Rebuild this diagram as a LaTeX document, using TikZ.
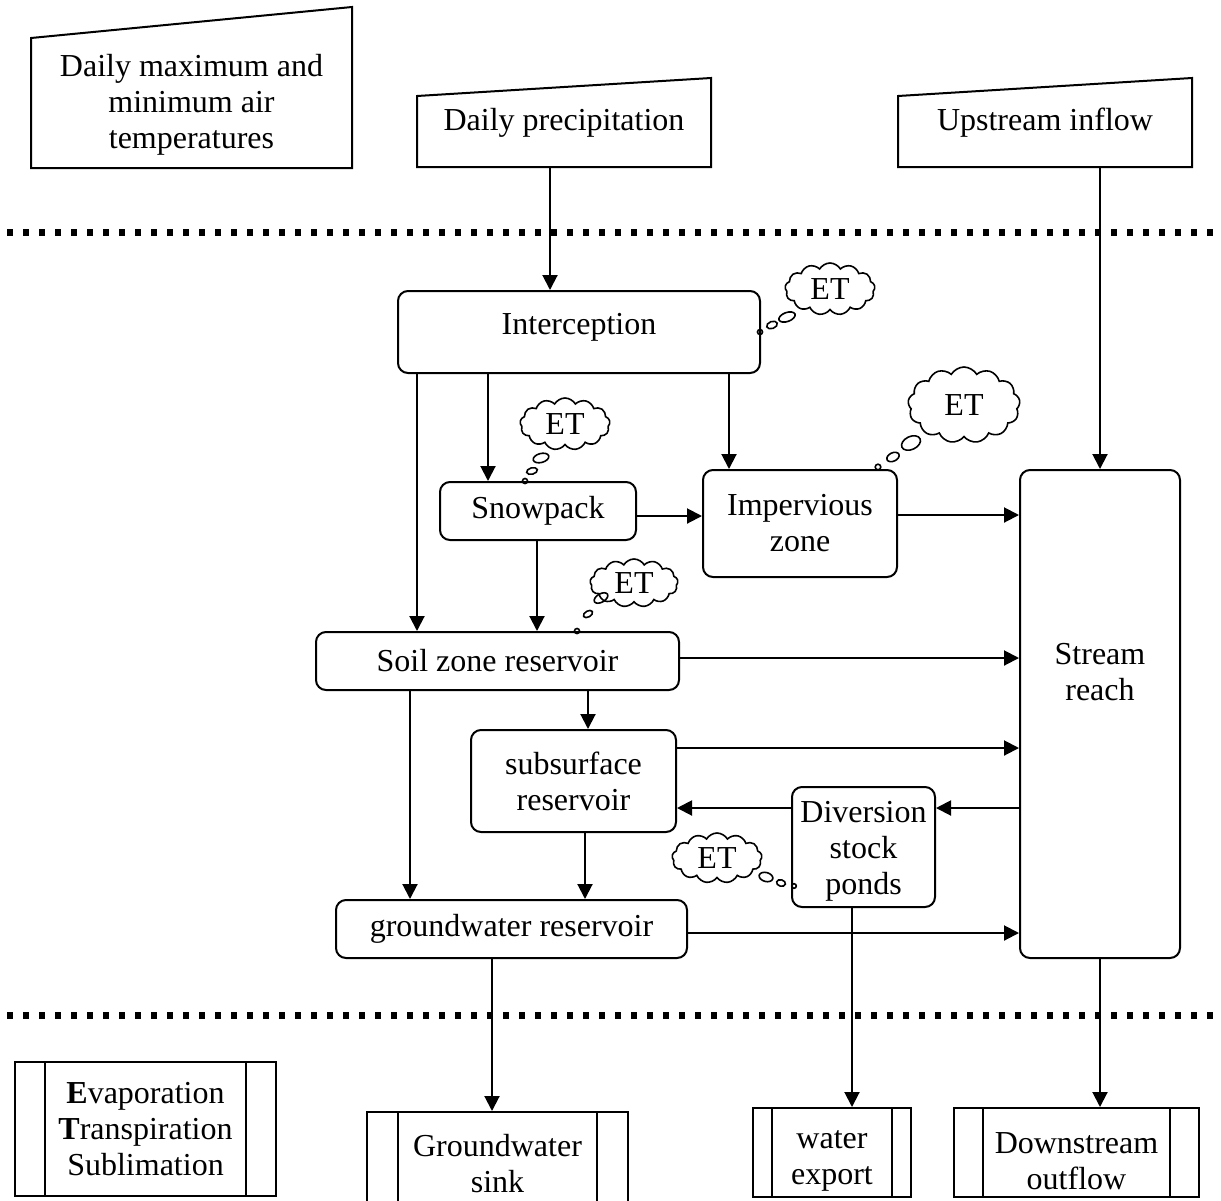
\documentclass[tikz,border=0pt]{standalone}
\usepackage{fontspec}
\setmainfont{Liberation Serif}
\usetikzlibrary{arrows.meta,shapes.symbols,calc}
\begin{document}
\begin{tikzpicture}[x=1pt,y=-1pt,
  every node/.style={font=\fontsize{32}{36}\selectfont},
  box/.style={draw, line width=2pt, rounded corners=10pt, align=center, inner sep=0pt},
  inbox/.style={align=center, inner sep=0pt, outer sep=0pt},
  procbox/.style={draw, line width=2pt, align=center, inner sep=0pt},
  outl/.style={line width=2pt, line join=miter},
  arr/.style={line width=2pt, -{Triangle[length=15pt,width=15pt]}},
  sep/.style={line width=7pt, dash pattern=on 6pt off 10pt},
  et/.style={cloud, draw, line width=1.6pt, cloud puffs=13, cloud puff arc=120, inner sep=0pt,
    cloud ignores aspect},
  bub/.style={line width=1.6pt}
]
\useasboundingbox (0,0) rectangle (1221,1200);

% separators
\coordinate (s1a) at (7,232);  \coordinate (s1b) at (1221,232);
\coordinate (s2a) at (7,1015); \coordinate (s2b) at (1221,1015);
\draw[sep] (s1a) -- (s1b);
\draw[sep] (s2a) -- (s2b);

% inputs (manual input shapes)
\node[inbox, minimum width=321, minimum height=130] (temp) at (191.5,105)
  {Daily maximum and\\minimum air\\temperatures};
\draw[outl] ([yshift=2pt]temp.south west) -- ([yshift=2pt]temp.south east) -- ([yshift=33pt]temp.north east) -- ([yshift=2pt]temp.north west) -- cycle;
\node[inbox, minimum width=294, minimum height=89] (prec) at (564,122.5) {Daily precipitation};
\draw[outl] (prec.south west) -- (prec.south east) -- (prec.north east) -- ([yshift=-18pt]prec.north west) -- cycle;
\node[inbox, minimum width=294, minimum height=89] (up) at (1045,122.5) {Upstream inflow};
\draw[outl] (up.south west) -- (up.south east) -- (up.north east) -- ([yshift=-18pt]up.north west) -- cycle;

% processes
\node[box, minimum width=362, minimum height=82] (inter) at (579,332) {};
\node[inbox] (intertxt) at (579,327) {Interception};
\node[box, minimum width=196, minimum height=58] (snow) at (538,511) {Snowpack};
\node[box, minimum width=194, minimum height=107] (imp) at (800,523.5) {Impervious\\zone};
\node[box, minimum width=363, minimum height=58] (soil) at (497.5,661) {Soil zone reservoir};
\node[box, minimum width=205, minimum height=102] (sub) at (573.5,781) {subsurface\\reservoir};
\node[box, minimum width=143, minimum height=120] (div) at (863.5,847) {};
\node[inbox] (divtxt) at (863.5,851) {Diversion\\stock\\ponds};
\node[box, minimum width=351, minimum height=58] (gw) at (511.5,929) {groundwater reservoir};
\node[box, minimum width=160, minimum height=488] (stream) at (1100,714) {};
\node[inbox] (streamtxt) at (1100,672) {Stream\\reach};

% outputs (predefined process)
\node[procbox, minimum width=261, minimum height=134] (ets) at (145.5,1129)
  {\textbf{E}vaporation\\\textbf{T}ranspiration\\Sublimation};
\node[procbox, minimum width=261, minimum height=103] (sink) at (497.5,1163.5) {Groundwater\\sink};
\node[procbox, minimum width=158, minimum height=89] (export) at (832,1152.5) {};
\node[inbox] (exporttxt) at (832,1161) {water\\export};
\node[procbox, minimum width=245, minimum height=89] (down) at (1076.5,1152.5) {};
\node[inbox] (downtxt) at (1076.5,1161) {Downstream\\outflow};
\foreach \n/\d in {ets/31, sink/32, export/20, down/30}{
  \draw[line width=2pt] ([xshift=\d pt]\n.north west) -- ([xshift=\d pt]\n.south west);
  \draw[line width=2pt] ([xshift=-\d pt]\n.north east) -- ([xshift=-\d pt]\n.south east);
}

% ET clouds (thought bubbles)
\node[et, minimum width=90, minimum height=52] (et1) at (830,289) {ET};
\node[et, minimum width=90, minimum height=52] (et2) at (565,424) {ET};
\node[et, minimum width=112, minimum height=76] (et3) at (964,405) {ET};
\node[et, minimum width=88, minimum height=48] (et4) at (634,583) {ET};
\node[et, minimum width=90, minimum height=50] (et5) at (717,858) {ET};
% bubble trails
\draw[bub] (787,317) ellipse [x radius=8.5pt, y radius=4.5pt, rotate=20];
\draw[bub] (772,325) ellipse [x radius=5.5pt, y radius=3.5pt, rotate=20];
\draw[bub] (760,332) circle [radius=2.5pt];
\draw[bub] (541,458) ellipse [x radius=8pt, y radius=4.5pt, rotate=15];
\draw[bub] (532,471) ellipse [x radius=5.5pt, y radius=3.2pt, rotate=15];
\draw[bub] (525,481) circle [radius=2.5pt];
\draw[bub] (911,443) ellipse [x radius=10pt, y radius=6.5pt, rotate=25];
\draw[bub] (893,457) ellipse [x radius=6.5pt, y radius=4.2pt, rotate=25];
\draw[bub] (878,467) circle [radius=2.8pt];
\draw[bub] (601,598) ellipse [x radius=7.5pt, y radius=4.2pt, rotate=30];
\draw[bub] (588,614) ellipse [x radius=5pt, y radius=3pt, rotate=30];
\draw[bub] (577,631) circle [radius=2.5pt];
\draw[bub] (766,877) ellipse [x radius=7pt, y radius=4.5pt, rotate=-15];
\draw[bub] (781,883) ellipse [x radius=4.5pt, y radius=3.2pt, rotate=-15];
\draw[bub] (794,886) circle [radius=2.3pt];

% connectors
\draw[arr] (550,0 |- prec.south) -- (550,0 |- inter.north);
\draw[arr] (1100,0 |- up.south) -- (stream.north);
\draw[arr] (417,0 |- inter.south) -- (417,0 |- soil.north);
\draw[arr] (488,0 |- inter.south) -- (488,0 |- snow.north);
\draw[arr] (729,0 |- inter.south) -- (729,0 |- imp.north);
\draw[arr] (snow.east |- 0,516) -- (imp.west |- 0,516);
\draw[arr] (537,0 |- snow.south) -- (537,0 |- soil.north);
\draw[arr] (imp.east |- 0,515) -- (stream.west |- 0,515);
\draw[arr] (soil.east |- 0,658) -- (stream.west |- 0,658);
\draw[arr] (588,0 |- soil.south) -- (588,0 |- sub.north);
\draw[arr] (410,0 |- soil.south) -- (410,0 |- gw.north);
\draw[arr] (sub.east |- 0,748) -- (stream.west |- 0,748);
\draw[arr] (585,0 |- sub.south) -- (585,0 |- gw.north);
\draw[arr] (stream.west |- 0,808) -- (div.east |- 0,808);
\draw[arr] (div.west |- 0,808) -- (sub.east |- 0,808);
\draw[arr] (gw.east |- 0,933) -- (stream.west |- 0,933);
\draw[arr] (492,0 |- gw.south) -- (492,0 |- sink.north);
\draw[arr] (852,0 |- div.south) -- (852,0 |- export.north);
\draw[arr] (1100,0 |- stream.south) -- (1100,0 |- down.north);
\end{tikzpicture}
\end{document}
